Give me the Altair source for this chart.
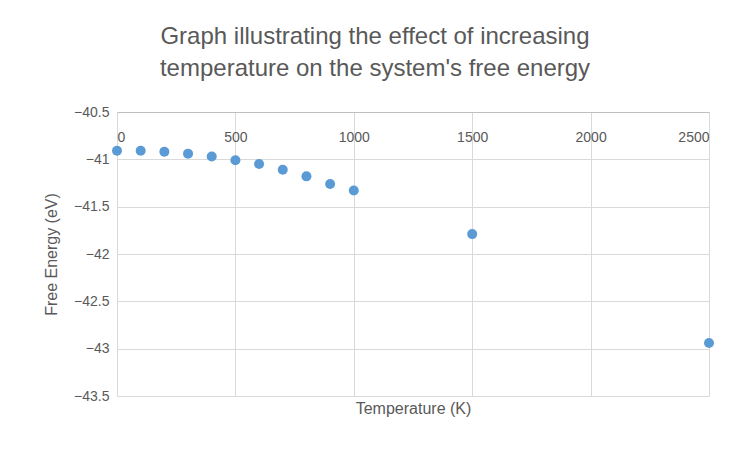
import altair as alt
import pandas as pd

temps = [0, 100, 200, 300, 400, 500, 600, 700, 800, 900, 1000, 1500, 2500]
energy = [-40.91, -40.91, -40.92, -40.94, -40.97, -41.01, -41.05, -41.11, -41.18, -41.26, -41.33, -41.79, -42.94]
df = pd.DataFrame({"T": temps, "E": energy})

font = "Liberation Sans"
xs = alt.Scale(domain=[0, 2500], nice=False)
ys = alt.Scale(domain=[-43.5, -40.5], nice=False)

pts = alt.Chart(df).mark_circle(size=100, color="#5b9bd5", opacity=1).encode(
    x=alt.X("T:Q", scale=xs, axis=alt.Axis(orient="top", values=[0, 500, 1000, 1500, 2000, 2500],
        format="d", ticks=False, labelPadding=-18, labelBaseline="top", title=None, domainColor="#bfbfbf",
        gridColor="#d9d9d9", labelColor="#595959", labelFontSize=14, labelFont=font)),
    y=alt.Y("E:Q", scale=ys, axis=alt.Axis(values=[-43.5, -43, -42.5, -42, -41.5, -41, -40.5],
        format="~g", ticks=False, domain=False, gridColor="#d9d9d9", labelColor="#595959",
        labelFontSize=14, labelFont=font, labelPadding=8, title="Free Energy (eV)",
        titleFont=font, titleFontSize=16, titleFontWeight="normal", titleColor="#595959", titlePadding=14)),
)
ttl = alt.Chart(df).mark_circle(opacity=0).encode(
    x=alt.X("T:Q", scale=xs, axis=alt.Axis(orient="bottom", labels=False, ticks=False, domain=False,
        grid=False, title="Temperature (K)", titleFont=font, titleFontSize=16,
        titleFontWeight="normal", titleColor="#595959", titlePadding=4)),
    y=alt.Y("E:Q", scale=ys, axis=None),
)
chart = alt.layer(pts, ttl).resolve_axis(x="independent", y="independent").properties(
    width=592, height=284, autosize="none",
    padding={"left": 109, "top": 104, "right": 35, "bottom": 48},
    title=alt.TitleParams(["Graph illustrating the effect of increasing",
                           "temperature on the system's free energy"],
        font=font, fontSize=24, fontWeight="normal", color="#595959", dx=-38, offset=24, lineHeight=32),
).configure_view(stroke=None)
chart.save("out.html", embed_options={"renderer": "svg", "actions": False})
